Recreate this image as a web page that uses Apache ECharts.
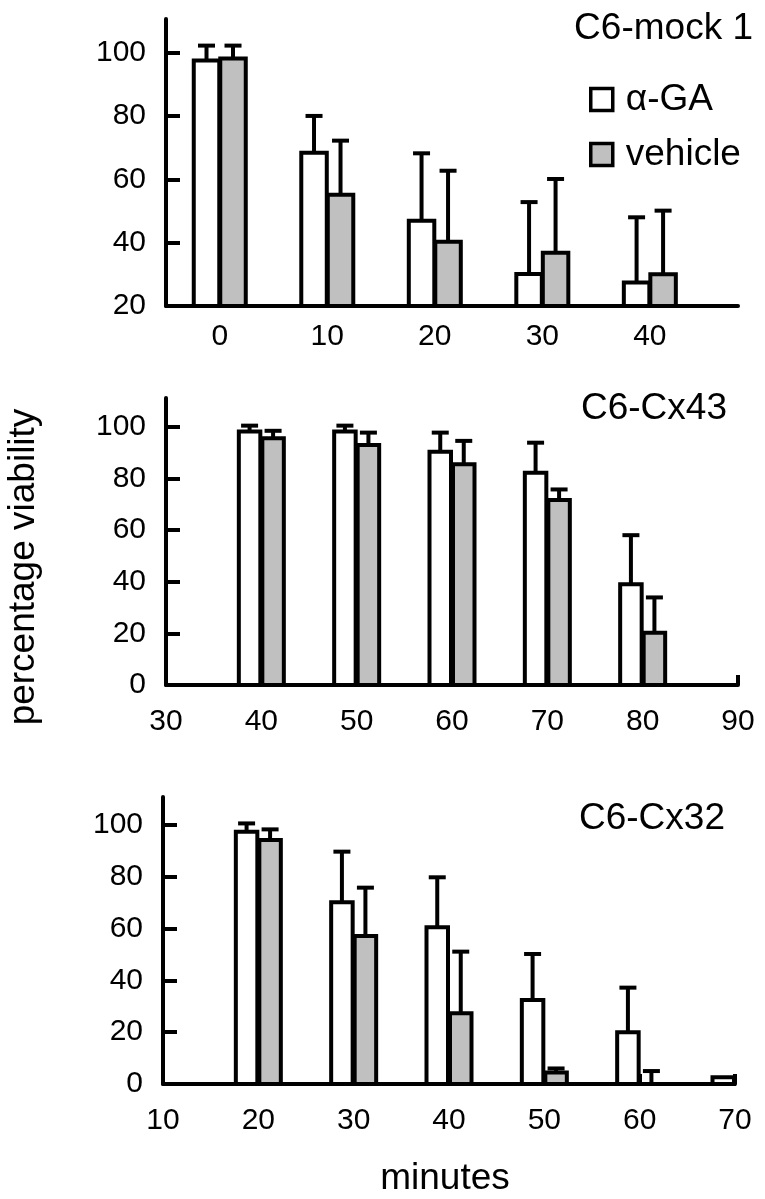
<!DOCTYPE html>
<html>
<head>
<meta charset="utf-8">
<script src="https://cdn.jsdelivr.net/npm/echarts@6/dist/echarts.min.js"></script>
<style>
html,body{margin:0;padding:0;background:#fff;}
#chart{width:765px;height:1199px;}
</style>
</head>
<body>
<div id="chart"></div>
<script>
// ---- data ----
const mockTimes = [0, 10, 20, 30, 40];
const mockGA = [97.5, 68.4, 46.9, 30.1, 27.4];
const mockGAErr = [4.7, 11.6, 21.3, 22.7, 20.6];
const mockVeh = [98.1, 55.1, 40.3, 36.8, 30.0];
const mockVehErr = [4.1, 17.1, 22.4, 23.3, 20.1];

const cx43Times = [40, 50, 60, 70, 80];
const cx43GA = [98.1, 98.1, 90.3, 82.2, 39.0];
const cx43GAErr = [2.3, 2.3, 7.4, 11.6, 19.0];
const cx43Veh = [95.5, 92.9, 85.5, 71.6, 20.2];
const cx43VehErr = [2.9, 4.8, 9.0, 4.1, 13.7];

const cx32Times = [20, 30, 40, 50, 60, 70];
const cx32GA = [97.4, 70.2, 60.5, 32.4, 20.0, 2.6];
const cx32GAErr = [3.2, 19.5, 19.3, 17.8, 17.2, 0];
const cx32Veh = [94.2, 57.1, 27.3, 4.4, 0, 0];
const cx32VehErr = [4.1, 18.7, 23.8, 1.6, 5.0, 0];

const mockXTicks = [0, 10, 20, 30, 40];
const mockYTicks = [20, 40, 60, 80, 100];
const yTicks0 = [0, 20, 40, 60, 80, 100];
const titles = ['C6-mock 1', 'C6-Cx43', 'C6-Cx32'];
const seriesNames = ['\u03b1-GA', 'vehicle'];
const yTitle = 'percentage viability';
const xTitle = 'minutes';

// ---- styling ----
const FONT = "'Liberation Sans', Arial, Helvetica, sans-serif";
const WHITE = '#ffffff', GRAY = '#c0c0c0', LW = 4;

function rows(xs, vs, es) { return xs.map((x, i) => [x, vs[i], es[i]]); }

function makeRender(side, inner, outer, ymin, fill) {
  return function (params, api) {
    const x = api.value(0), v = api.value(1), e = api.value(2);
    const top = api.coord([x, v]);
    const bot = api.coord([x, ymin]);
    const c = top[0];
    const x0 = side < 0 ? c - outer : c + inner;
    const x1 = side < 0 ? c - inner : c + outer;
    const mx = (x0 + x1) / 2;
    const ch = [];
    if (e > 0) {
      const tp = api.coord([x, v + e]);
      ch.push({type: 'line', shape: {x1: mx, y1: top[1], x2: mx, y2: tp[1]}, style: {stroke: '#000', lineWidth: LW}});
      ch.push({type: 'line', shape: {x1: mx - 8.5, y1: tp[1], x2: mx + 8.5, y2: tp[1]}, style: {stroke: '#000', lineWidth: LW}});
    }
    if (v > ymin) {
      ch.push({type: 'rect', shape: {x: x0, y: top[1], width: x1 - x0, height: bot[1] - top[1]},
        style: {fill: fill, stroke: '#000', lineWidth: LW}});
    }
    return {type: 'group', children: ch};
  };
}

const axisLineStyle = {show: true, onZero: false, lineStyle: {color: '#000', width: LW}};
const labelStyle = {color: '#000', fontSize: 30, fontFamily: FONT};

const grids = [
  {left: 166, top: 19, width: 572, height: 287},
  {left: 166, top: 398, width: 572, height: 287},
  {left: 163, top: 797, width: 572, height: 287}
];

const xAxes = [
  {gridIndex: 0, type: 'value', min: -5, max: 48.2, axisLine: axisLineStyle, axisTick: {show: false},
    splitLine: {show: false}, axisLabel: Object.assign({customValues: mockXTicks, margin: 16}, labelStyle)},
  {gridIndex: 1, type: 'value', min: 30, max: 90, interval: 10, axisLine: axisLineStyle,
    axisTick: {show: true, inside: true, length: 10, lineStyle: {color: '#000', width: LW}},
    splitLine: {show: false}, axisLabel: Object.assign({margin: 22}, labelStyle)},
  {gridIndex: 2, type: 'value', min: 10, max: 70, interval: 10, axisLine: axisLineStyle,
    axisTick: {show: true, inside: true, length: 10, lineStyle: {color: '#000', width: LW}},
    splitLine: {show: false}, axisLabel: Object.assign({margin: 22}, labelStyle)}
];

function yAxis(gi, min, max, ticks) {
  return {gridIndex: gi, type: 'value', min: min, max: max, axisLine: axisLineStyle,
    axisTick: {show: true, inside: true, length: 14, customValues: ticks, lineStyle: {color: '#000', width: LW}},
    splitLine: {show: false}, axisLabel: Object.assign({customValues: ticks, margin: 20}, labelStyle)};
}
const yAxes = [yAxis(0, 20, 110.6, mockYTicks), yAxis(1, 0, 111.1, yTicks0), yAxis(2, 0, 110.8, yTicks0)];

const panels = [
  {times: mockTimes, ga: mockGA, gaE: mockGAErr, veh: mockVeh, vehE: mockVehErr, ymin: 20, inner: 0.5, outer: 26},
  {times: cx43Times, ga: cx43GA, gaE: cx43GAErr, veh: cx43Veh, vehE: cx43VehErr, ymin: 0, inner: 1, outer: 22.5},
  {times: cx32Times, ga: cx32GA, gaE: cx32GAErr, veh: cx32Veh, vehE: cx32VehErr, ymin: 0, inner: 1, outer: 22.5}
];

const series = [];
panels.forEach((p, i) => {
  series.push({name: seriesNames[0], type: 'custom', xAxisIndex: i, yAxisIndex: i,
    itemStyle: {color: WHITE, borderColor: '#000'},
    renderItem: makeRender(-1, p.inner, p.outer, p.ymin, WHITE),
    encode: {x: 0, y: 1}, data: rows(p.times, p.ga, p.gaE), z: 3});
  series.push({name: seriesNames[1], type: 'custom', xAxisIndex: i, yAxisIndex: i,
    itemStyle: {color: GRAY, borderColor: '#000'},
    renderItem: makeRender(1, p.inner, p.outer, p.ymin, GRAY),
    encode: {x: 0, y: 1}, data: rows(p.times, p.veh, p.vehE), z: 3});
});

const titleStyle = {color: '#000', fontSize: 37, fontWeight: 'normal', fontFamily: FONT};

const option = {
  backgroundColor: '#fff',
  animation: false,
  title: [
    {text: titles[0], right: 12, top: 10, textStyle: titleStyle, padding: 0},
    {text: titles[1], right: 38, top: 390, textStyle: titleStyle, padding: 0},
    {text: titles[2], right: 40, top: 800, textStyle: titleStyle, padding: 0}
  ],
  legend: {
    orient: 'vertical', left: 589, top: 81, itemWidth: 22, itemHeight: 22, itemGap: 18,
    selectedMode: false, padding: 0, icon: 'rect',
    textStyle: {color: '#000', fontSize: 37, fontFamily: FONT, lineHeight: 37, padding: [0, 0, 0, 8]},
    data: [
      {name: seriesNames[0], itemStyle: {color: WHITE, borderColor: '#000', borderWidth: 3.5}},
      {name: seriesNames[1], itemStyle: {color: GRAY, borderColor: '#000', borderWidth: 3.5}}
    ]
  },
  grid: grids.map(g => Object.assign({outerBoundsMode: 'none', containLabel: false}, g)),
  xAxis: xAxes,
  yAxis: yAxes,
  series: series,
  graphic: [
    {type: 'text', x: 24, y: 567, rotation: Math.PI / 2,
      style: {text: yTitle, font: '37px ' + FONT, fill: '#000', align: 'center', verticalAlign: 'middle'}},
    {type: 'text', x: 445, y: 1179,
      style: {text: xTitle, font: '37px ' + FONT, fill: '#000', align: 'center', verticalAlign: 'middle'}}
  ]
};

const chart = echarts.init(document.getElementById('chart'), null, {renderer: 'canvas'});
chart.setOption(option);
</script>
</body>
</html>
